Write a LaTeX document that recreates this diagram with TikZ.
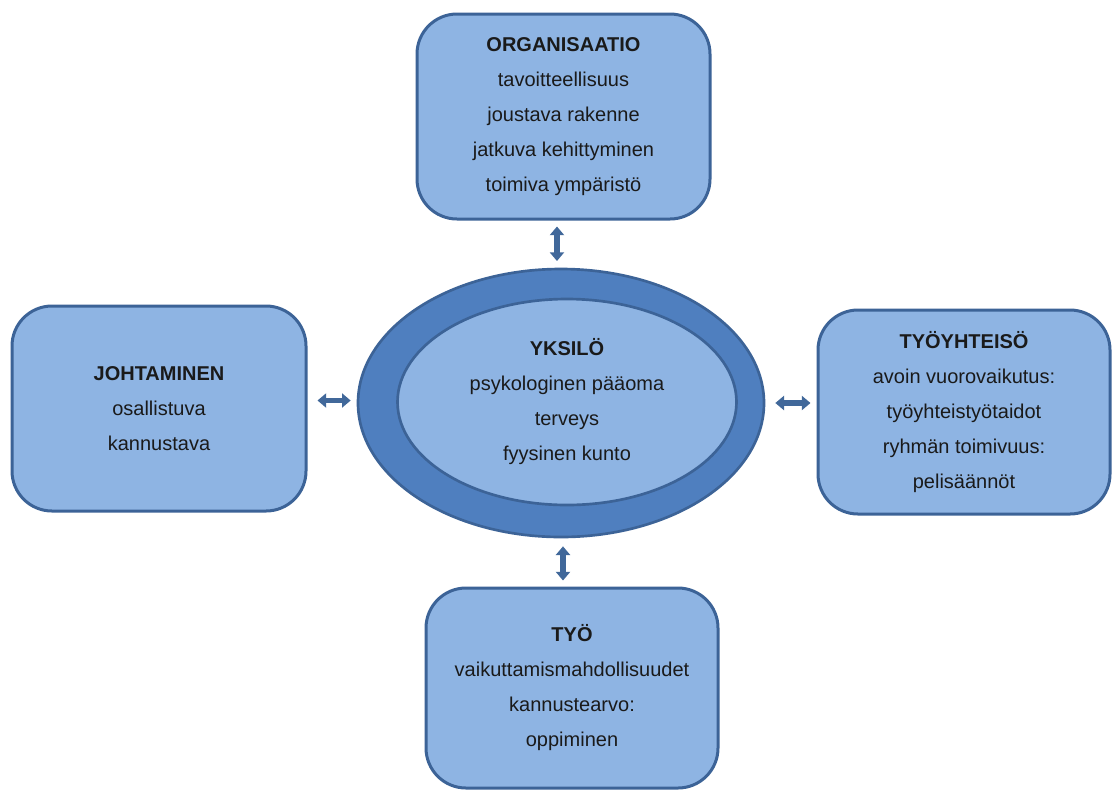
\documentclass[tikz,border=0pt]{standalone}
\usepackage{fontspec}
\setmainfont{Liberation Sans}
\usetikzlibrary{shapes.geometric,arrows.meta}
\definecolor{boxfill}{HTML}{8EB4E3}
\definecolor{boxline}{HTML}{3C6397}
\definecolor{ringfill}{HTML}{4F7FBF}
\definecolor{arrowcol}{HTML}{41689A}
\definecolor{txt}{HTML}{1A1A1A}
\tikzset{
  infobox/.style={draw=boxline, line width=2.25pt, fill=boxfill, rounded corners=30pt,
    align=center, text=txt, font=\fontsize{15pt}{26.25pt}\selectfont, inner sep=0pt},
  dblarrow/.style={draw=arrowcol, line width=4.3pt,
    {Triangle[width=10.5pt,length=6.5pt]}-{Triangle[width=10.5pt,length=6.5pt]}}
}
\begin{document}
\begin{tikzpicture}[x=0.75pt,y=-0.75pt]
\path[use as bounding box, fill=white] (0,0) rectangle (1113,790);

\node[infobox, minimum width=219.75pt, minimum height=153.75pt] (org) at (563.5,116.5)
  {\textbf{ORGANISAATIO}\\tavoitteellisuus\\joustava rakenne\\jatkuva kehittyminen\\toimiva ympäristö};
\node[infobox, minimum width=220.5pt, minimum height=153.75pt] (joh) at (159,408.5)
  {\textbf{JOHTAMINEN}\\osallistuva\\kannustava};
\node[infobox, minimum width=219pt, minimum height=153pt] (tyy) at (964,412)
  {\textbf{TYÖYHTEISÖ}\\avoin vuorovaikutus:\\työyhteistyötaidot\\ryhmän toimivuus:\\pelisäännöt};
\node[infobox, minimum width=219pt, minimum height=150pt] (tyo) at (572,688)
  {\textbf{TYÖ}\\vaikuttamismahdollisuudet\\kannustearvo:\\oppiminen};

\node[ellipse, draw=boxline, line width=2pt, fill=ringfill, minimum width=304.5pt, minimum height=201pt] (ell) at (561,403) {};
\node[ellipse, draw=boxline, line width=2pt, fill=boxfill, minimum width=254.25pt, minimum height=154.5pt,
  align=center, text=txt, font=\fontsize{15pt}{26.25pt}\selectfont, inner sep=0pt] (inner) at (567,402)
  {\textbf{YKSILÖ}\\psykologinen pääoma\\terveys\\fyysinen kunto};

\draw[dblarrow, shorten <=4.5pt, shorten >=5pt] ([xshift=-4.9pt]org.south) -- ([xshift=-4.9pt]org.south |- ell.north);
\draw[dblarrow, shorten <=7.5pt, shorten >=4.5pt] ([yshift=6pt]joh.east) -- ([yshift=6pt]joh.east -| ell.west);
\draw[dblarrow, shorten <=7.5pt, shorten >=4.5pt] (ell.east) -- (ell.east -| tyy.west);
\draw[dblarrow, shorten <=6pt, shorten >=4.5pt] ([xshift=1.5pt]ell.south) -- ([xshift=1.5pt]ell.south |- tyo.north);
\end{tikzpicture}
\end{document}
